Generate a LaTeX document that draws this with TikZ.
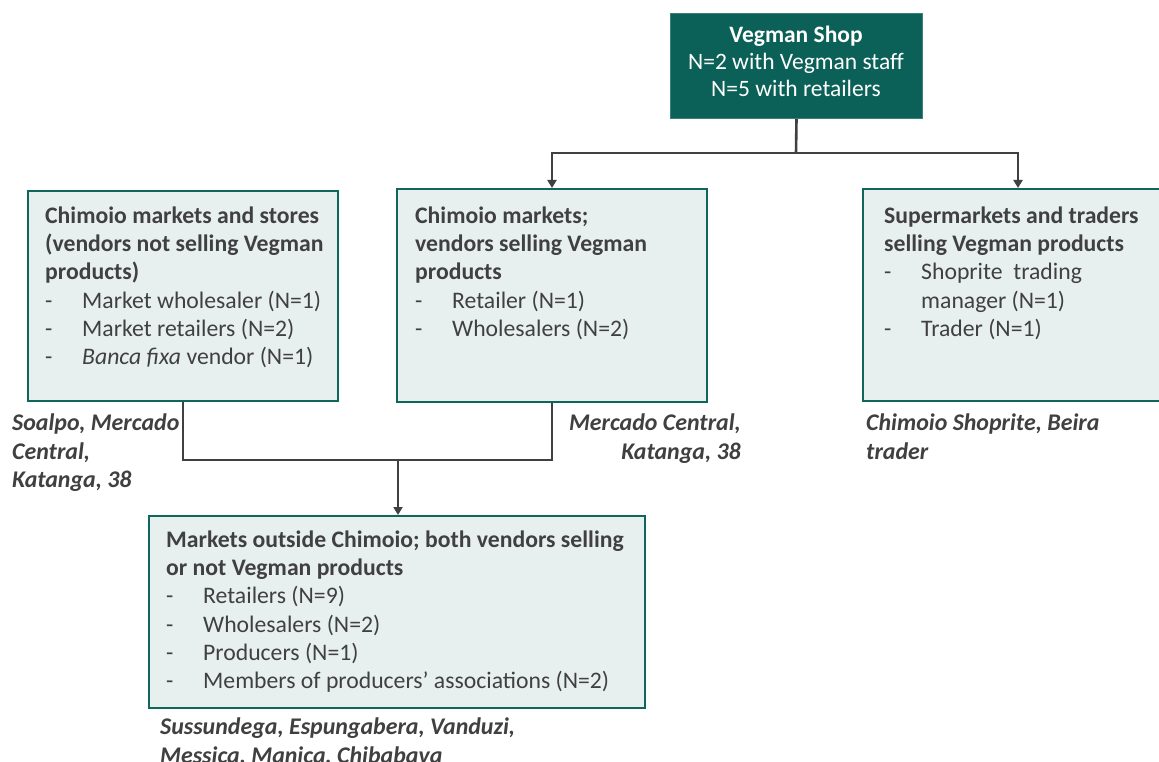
\documentclass[tikz,border=0pt]{standalone}
\usepackage{fontspec}
\setmainfont{Carlito}
\usetikzlibrary{arrows.meta,calc}
\definecolor{teal}{HTML}{0B6157}
\definecolor{boxfill}{HTML}{E8F0EF}
\definecolor{boxline}{HTML}{0F675B}
\definecolor{txt}{HTML}{404040}
\definecolor{conncol}{HTML}{404040}
\newcommand{\itm}{\makebox[37pt][l]{-}}
\newcommand{\itc}{\hspace*{37pt}}
\newcommand{\fl}{\rule{0pt}{20pt}}
\begin{document}
\begin{tikzpicture}[x=1pt,y=-1pt,
  boxstyle/.style={draw=boxline,line width=2pt,fill=boxfill,inner sep=0pt,anchor=north west},
  topstyle/.style={draw=teal!80!white,line width=1pt,fill=teal,inner sep=0pt,anchor=north west},
  txtstyle/.style={anchor=north west,inner sep=0pt,text=txt,align=left,font={\fontsize{23.7}{28.3}\selectfont}},
  lblstyle/.style={inner sep=0pt,text=txt,font={\fontsize{23.9}{28.8}\selectfont\bfseries\itshape}},
  conn/.style={draw=conncol,line width=2.6pt},
  arr/.style={conn,-{Triangle[length=8pt,width=9pt]}}]
\useasboundingbox (0,0) rectangle (1159,762);
% boxes
\node[topstyle,minimum width=252pt,minimum height=105pt] (top) at (670,13) {};
\node[boxstyle,minimum width=310pt,minimum height=210pt] (left) at (27,190) {};
\node[boxstyle,minimum width=310pt,minimum height=213pt] (mid) at (396,188) {};
\node[boxstyle,minimum width=300pt,minimum height=212pt] (right) at (862,188) {};
\node[boxstyle,minimum width=496pt,minimum height=192pt] (bot) at (148,515) {};
% texts
\node[anchor=north,inner sep=0pt,text=white,align=center,font={\fontsize{23.5}{27}\selectfont}] (toptxt) at (796,22)
  {\fl\textbf{Vegman Shop}\\N=2 with Vegman staff\\N=5 with retailers};
\node[txtstyle] (lefttxt) at (45,203)
  {\fl\textbf{Chimoio markets and stores}\\\textbf{(vendors not selling Vegman}\\\textbf{products)}\\
   \itm Market wholesaler (N=1)\\\itm Market retailers (N=2)\\\itm\textit{Banca fixa} vendor (N=1)};
\node[txtstyle] (midtxt) at (415,203)
  {\fl\textbf{Chimoio markets;}\\\textbf{vendors selling Vegman}\\\textbf{products}\\
   \itm Retailer (N=1)\\\itm Wholesalers (N=2)};
\node[txtstyle] (righttxt) at (884,203)
  {\fl\textbf{Supermarkets and traders}\\\textbf{selling Vegman products}\\
   \itm Shoprite\ \ trading\\\itc manager (N=1)\\\itm Trader (N=1)};
\node[txtstyle] (bottxt) at (166,527)
  {\fl\textbf{Markets outside Chimoio; both vendors selling}\\\textbf{or not Vegman products}\\
   \itm Retailers (N=9)\\\itm Wholesalers (N=2)\\\itm Producers (N=1)\\\itm Members of producers’ associations (N=2)};
% labels
\node[lblstyle,anchor=north west,align=left] (lbl1) at (12,410) {\fl Soalpo, Mercado\\Central,\\Katanga, 38};
\node[lblstyle,anchor=north east,align=right] (lbl2) at (741,410) {\fl Mercado Central,\\Katanga, 38};
\node[lblstyle,anchor=north west,align=left] (lbl3) at (866,410) {\fl Chimoio Shoprite, Beira\\trader};
\node[lblstyle,anchor=north west,align=left] (lbl4) at (160,714) {\fl Sussundega, Espungabera, Vanduzi,\\Messica, Manica, Chibabava};
% connectors
\coordinate (j1) at (796,153);
\coordinate (j2) at (398,460);
\draw[conn] (top.south) -- (j1);
\draw[arr] (j1) -| (mid.north);
\draw[arr] (j1) -| ([xshift=5pt]right.north);
\draw[conn] (left.south) |- (j2);
\draw[conn] (mid.south) |- (j2);
\draw[arr] (j2) -- (j2 |- bot.north);
\end{tikzpicture}
\end{document}
